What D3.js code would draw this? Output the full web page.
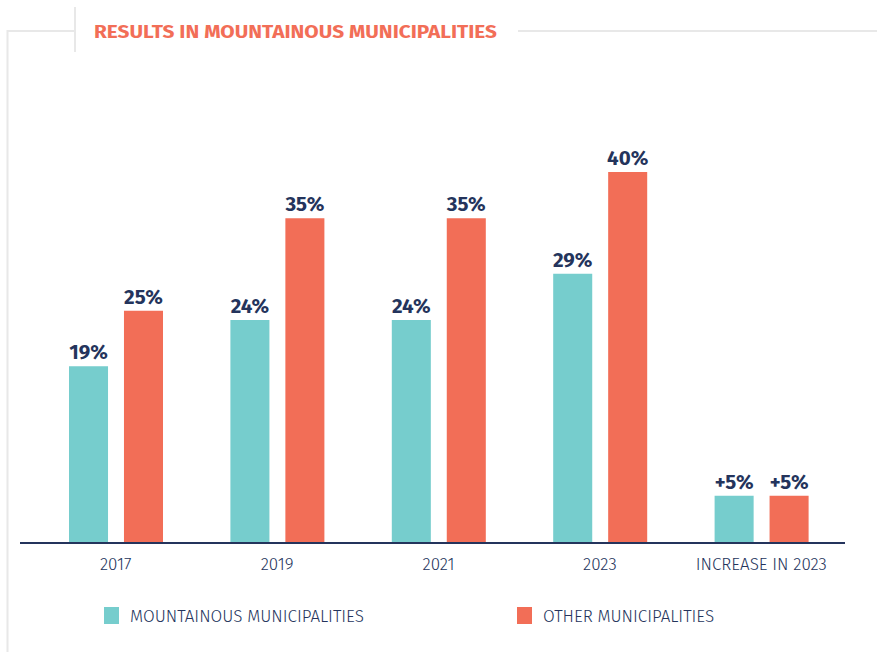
<!DOCTYPE html>
<html>
<head>
<meta charset="utf-8">
<script src="https://cdn.jsdelivr.net/npm/d3@7"></script>
<style>
  body { margin: 0; background: #fff; }
  svg { display: block; }
  text { font-family: "Fira Sans", Lato, "Open Sans", sans-serif; }
</style>
</head>
<body>
<svg id="chart" width="877" height="652"></svg>
<script>
// data
var categories = ["2017", "2019", "2021", "2023", "INCREASE IN 2023"];
var series = ["MOUNTAINOUS MUNICIPALITIES", "OTHER MUNICIPALITIES"];
var mountainous = [19, 24, 24, 29, 5];
var other = [25, 35, 35, 40, 5];
var valueLabels = [
  ["19%", "24%", "24%", "29%", "+5%"],
  ["25%", "35%", "35%", "40%", "+5%"]
];

var COLOR_TEAL = "#76cdcd";
var COLOR_ORANGE = "#f26e57";
var NAVY = "#24345c";
var FRAME = "#e8e8e8";

var svg = d3.select("#chart");

// frame round the title
svg.append("path")
  .attr("d", "M7.5,652 V31 H75 M75,7 V52 M518,31 H877")
  .attr("fill", "none")
  .attr("stroke", FRAME)
  .attr("stroke-width", 2);

svg.append("text")
  .attr("x", 94).attr("y", 38)
  .attr("textLength", 403).attr("lengthAdjust", "spacingAndGlyphs")
  .attr("fill", COLOR_ORANGE)
  .attr("font-size", 18).attr("font-weight", 700)
  .text("RESULTS IN MOUNTAINOUS MUNICIPALITIES");

// scales
var x0 = d3.scaleBand().domain(categories).range([35, 842]).padding(0);
var x1 = d3.scaleBand().domain([0, 1]).range([34, 128]).paddingInner(0.29);
var y = d3.scaleLinear().domain([0, 40]).range([542, 172]);
var colors = [COLOR_TEAL, COLOR_ORANGE];

var rows = categories.map(function (c, i) {
  return { cat: c, vals: [mountainous[i], other[i]], idx: i };
});

var groups = svg.selectAll("g.grp").data(rows).join("g")
  .attr("class", "grp")
  .attr("transform", function (d) { return "translate(" + x0(d.cat) + ",0)"; });

groups.selectAll("rect").data(function (d) {
  return d.vals.map(function (v, s) { return { v: v, s: s, i: d.idx }; });
}).join("rect")
  .attr("x", function (d) { return x1(d.s); })
  .attr("width", x1.bandwidth())
  .attr("y", function (d) { return y(d.v); })
  .attr("height", function (d) { return y(0) - y(d.v); })
  .attr("fill", function (d) { return colors[d.s]; });

groups.selectAll("text.val").data(function (d) {
  return d.vals.map(function (v, s) { return { v: v, s: s, i: d.idx }; });
}).join("text")
  .attr("class", "val")
  .attr("x", function (d) { return x1(d.s) + x1.bandwidth() / 2; })
  .attr("y", function (d) { return y(d.v) - 7; })
  .attr("text-anchor", "middle")
  .attr("fill", NAVY)
  .attr("font-size", 20.5).attr("font-weight", 700)
  .text(function (d) { return valueLabels[d.s][d.i]; });

// axis
svg.append("line")
  .attr("x1", 20).attr("x2", 845)
  .attr("y1", y(0) + 1).attr("y2", y(0) + 1)
  .attr("stroke", NAVY).attr("stroke-width", 2);

var xAxis = svg.append("g")
  .attr("transform", "translate(0," + (y(0) + 1) + ")")
  .call(d3.axisBottom(x0).tickSize(0).tickPadding(15));
xAxis.select(".domain").remove();
xAxis.selectAll("text")
  .attr("fill", NAVY)
  .attr("font-size", 17)
  .attr("font-weight", 300)
  .style("font-family", "\"Fira Sans\", Lato, \"Open Sans\", sans-serif");

// legend
var legendX = [104, 517];
var legend = svg.selectAll("g.leg").data(series).join("g")
  .attr("class", "leg")
  .attr("transform", function (d, i) { return "translate(" + legendX[i] + ",607)"; });
legend.append("rect")
  .attr("width", 15).attr("height", 17)
  .attr("fill", function (d, i) { return colors[i]; });
legend.append("text")
  .attr("x", 26).attr("y", 15)
  .attr("fill", NAVY)
  .attr("font-size", 17)
  .attr("font-weight", 300)
  .text(function (d) { return d; });
</script>
</body>
</html>
